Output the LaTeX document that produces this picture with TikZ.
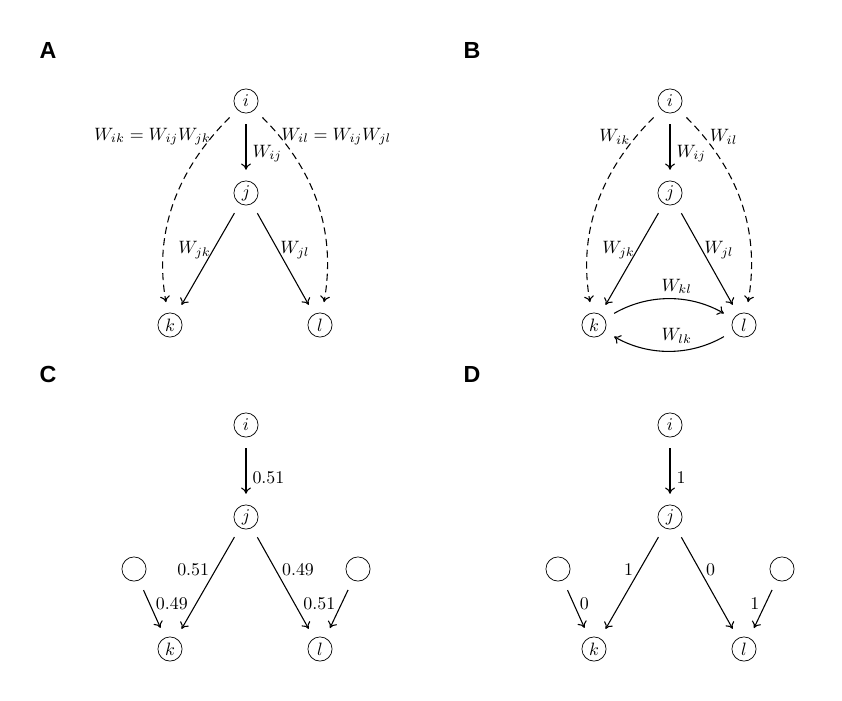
\documentclass[tikz,border=0pt]{standalone}
\usepackage{fontspec}
\newfontfamily\panelfont{Liberation Sans}
\usetikzlibrary{arrows.meta}

\begin{document}
\begin{tikzpicture}[x=0.5585pt,y=-0.5585pt,>={To[length=3.5pt,width=5.5pt]}]
\tikzstyle{vertex}=[circle,draw=black,minimum size=13.5pt,inner sep=0pt]
\tikzstyle{weight}=[->,semithick,shorten <=6pt,shorten >=6pt]
\tikzstyle{implied}=[weight,dash pattern=on 4pt off 2.5pt]
\tikzstyle{tight}=[inner sep=1pt]
\tikzstyle{panel}=[font=\panelfont\bfseries\fontsize{13}{15}\selectfont]

\useasboundingbox (0,0) rectangle (842,700);

% panel A
\node[panel] (A) at (48,50) {A};
\node[vertex] (Ai) at (246,101) {$i$};
\node[vertex] (Aj) at (246,193) {$j$};
\node[vertex] (Ak) at (170,325) {$k$};
\node[vertex] (Al) at (320,325) {$l$};

\path
  (Ai) edge [implied, out=225, in=100] node[tight, pos=0.15, left] {$W_{ik} = W_{ij}W_{jk}$} (Ak)
  (Ai) edge [implied, out=-45, in=80] node[tight, pos=0.15, right] {$W_{il} = W_{ij}W_{jl}$} (Al)
  (Ai) edge [weight] node[pos=0.6, right] {$W_{ij}$} (Aj)
  (Aj) edge [weight] node[tight, pos=0.42, left] {$W_{jk}$} (Ak)
  (Aj) edge [weight] node[tight, pos=0.42, right] {$W_{jl}$} (Al);

% panel B
\node[panel] (B) at (472,50) {B};
\node[vertex] (Bi) at (670,101) {$i$};
\node[vertex] (Bj) at (670,193) {$j$};
\node[vertex] (Bk) at (594,325) {$k$};
\node[vertex] (Bl) at (744,325) {$l$};

\path
  (Bi) edge [implied, out=225, in=100] node[pos=0.15, left, inner sep=3.5pt] {$W_{ik}$} (Bk)
  (Bi) edge [implied, out=-45, in=80] node[pos=0.15, right, inner sep=3.5pt] {$W_{il}$} (Bl)
  (Bi) edge [weight] node[pos=0.6, right] {$W_{ij}$} (Bj)
  (Bj) edge [weight] node[tight, pos=0.42, left] {$W_{jk}$} (Bk)
  (Bj) edge [weight] node[tight, pos=0.42, right] {$W_{jl}$} (Bl)
  (Bk) edge [weight, bend left=30] node[pos=0.56, above] {$W_{kl}$} (Bl)
  (Bl) edge [weight, bend left=30] node[pos=0.44, above] {$W_{lk}$} (Bk);

% panel C
\node[panel] (C) at (48,374) {C};
\node[vertex] (Ci) at (246,425) {$i$};
\node[vertex] (Cj) at (246,517) {$j$};
\node[vertex] (Ck) at (170,649) {$k$};
\node[vertex] (Cl) at (320,649) {$l$};
\node[vertex] (Cu) at (134,569) {};
\node[vertex] (Cv) at (358,569) {};

\path
  (Ci) edge [weight] node[pos=0.6, right] {$0.51$} (Cj)
  (Cj) edge [weight] node[pos=0.38, left] {$0.51$} (Ck)
  (Cj) edge [weight] node[pos=0.38, right] {$0.49$} (Cl)
  (Cu) edge [weight] node[pos=0.4, right] {$0.49$} (Ck)
  (Cv) edge [weight] node[pos=0.4, left] {$0.51$} (Cl);

% panel D
\node[panel] (D) at (472,374) {D};
\node[vertex] (Di) at (670,425) {$i$};
\node[vertex] (Dj) at (670,517) {$j$};
\node[vertex] (Dk) at (594,649) {$k$};
\node[vertex] (Dl) at (744,649) {$l$};
\node[vertex] (Du) at (558,569) {};
\node[vertex] (Dv) at (782,569) {};

\path
  (Di) edge [weight] node[pos=0.6, right] {$1$} (Dj)
  (Dj) edge [weight] node[pos=0.38, left] {$1$} (Dk)
  (Dj) edge [weight] node[pos=0.38, right] {$0$} (Dl)
  (Du) edge [weight] node[pos=0.4, right] {$0$} (Dk)
  (Dv) edge [weight] node[pos=0.4, left] {$1$} (Dl);
\end{tikzpicture}
\end{document}
